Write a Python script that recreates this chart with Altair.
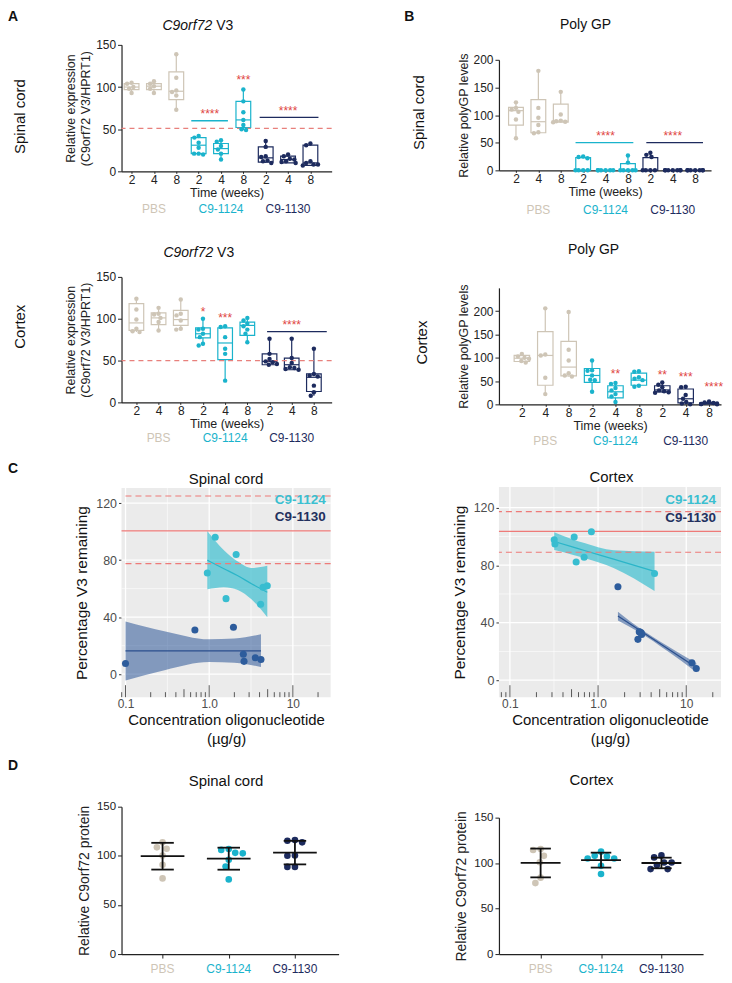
import altair as alt
import pandas as pd

FONT = "Liberation Sans"
GROUPS = ["PBS", "C9-1124", "C9-1130"]
PBS_C = "#CEC5B6"
CYAN = "#1AB3CC"
NAVY = "#1D2B5E"
STAR = "#E0453F"
RED_LINE = "#EE7A78"

# ---------------- Panel A / B : box plots (order PBS 2,4,8 | C9-1124 2,4,8 | C9-1130 2,4,8)
A_SC_PTS = [
    [105, 104, 100, 98, 93],
    [107, 104, 101, 98, 93],
    [139, 111, 96, 94, 90, 73],
    [42, 40, 34, 28, 21, 21, 20],
    [37, 35, 30, 26, 21, 14],
    [97, 83, 70, 61, 55, 50, 49],
    [36, 29, 18, 17, 13, 12, 10],
    [20, 18, 15, 14, 12, 11, 10],
    [33, 31, 12, 10, 8, 8, 7],
]
A_SC_BOX = [(97, 100, 104), (97, 101, 104), (85, 95, 118), (21, 31, 40), (21, 27, 33),
            (52, 61, 83), (11, 16, 29), (10, 14, 18), (7, 10, 31)]

A_CX_PTS = [
    [124, 111, 99, 88, 85, 84],
    [113, 106, 105, 101, 96, 86],
    [123, 106, 104, 98, 88, 87],
    [100, 88, 87, 82, 78, 70, 68],
    [91, 90, 78, 64, 58, 26],
    [101, 98, 94, 91, 87, 82, 72],
    [76, 58, 52, 49, 48, 46, 45],
    [76, 53, 47, 42, 41, 40, 39],
    [64, 34, 32, 31, 20, 12, 8],
]
A_CX_BOX = [(86, 95, 118), (93, 101, 107), (92, 99, 110), (77, 82, 89), (51, 71, 89),
            (80, 92, 96), (45, 49, 58), (39, 45, 53), (13, 30, 34)]

B_SC_PTS = [
    [123, 113, 110, 106, 92, 58],
    [180, 113, 95, 82, 69, 67],
    [142, 101, 90, 89, 88, 87],
    [25, 24, 22, 0, 0, 0, 0],
    [0, 0, 0, 0, 0, 0],
    [27, 14, 0, 0, 0, 0, 0],
    [32, 28, 24, 0, 0, 0, 0],
    [0, 0, 0, 0, 0, 0, 0],
    [0, 0, 0, 0, 0, 0, 0],
]
B_SC_BOX = [(82, 108, 114), (68, 88, 128), (87, 89, 120), (0, 0, 23), (0, 0, 0),
            (0, 0, 12), (0, 0, 23), (0, 0, 0), (0, 0, 0)]

B_CX_PTS = [
    [108, 103, 100, 98, 93, 90],
    [206, 107, 105, 57, 22],
    [198, 117, 94, 67, 62, 60],
    [94, 73, 72, 62, 53, 52, 27],
    [46, 44, 35, 30, 22, 17, 5],
    [71, 70, 58, 55, 52, 40, 38],
    [47, 42, 37, 30, 28, 26, 25],
    [38, 37, 20, 12, 5, 2, 0],
    [6, 4, 3, 2, 1, 1, 0],
]
B_CX_BOX = [(92, 99, 105), (41, 105, 156), (61, 80, 135), (47, 62, 77), (14, 27, 40),
            (41, 52, 67), (27, 31, 40), (3, 12, 33), (1, 2, 4)]

# ---------------- Panel C : concentration vs V3 remaining
C_SC_1124_X = [0.95, 1.18, 2.1, 1.59, 4.4, 4.95, 4.12]
C_SC_1124_Y = [71, 96, 84, 53, 61, 62, 49]
C_SC_1130_X = [0.10, 0.675, 1.95, 2.56, 2.61, 3.56, 4.16]
C_SC_1130_Y = [7.5, 31, 33, 14, 9, 11.5, 10.3]
C_CX_1124_X = [0.318, 0.324, 0.536, 0.84, 0.564, 0.695, 4.37]
C_CX_1124_Y = [97.7, 94.7, 99.6, 103.3, 82.2, 85.5, 74.2]
C_CX_1130_X = [1.68, 2.83, 2.93, 2.98, 3.09, 3.12, 11.6, 13.0]
C_CX_1130_Y = [65, 28.4, 33.7, 33.5, 33, 31.8, 12.2, 8.1]

# fitted lines and confidence bands
C_SC_1124_FX = [0.95, 1.5, 2.2, 3.2, 4.95]
C_SC_1124_FIT = [80, 74, 69, 63.5, 57.5]
C_SC_1124_LO = [59.5, 61, 59, 52.5, 40]
C_SC_1124_HI = [100.5, 87, 79, 74.5, 76]
C_SC_1130_FX = [0.10, 0.3, 1.0, 2.0, 4.16]
C_SC_1130_FIT = [16.4, 16.4, 16.4, 16.4, 16.4]
C_SC_1130_LO = [-4.5, 3, 8.5, 8, 5]
C_SC_1130_HI = [37, 30, 24.5, 25, 28]
C_CX_1124_FX = [0.318, 0.5, 0.7, 1.5, 4.37]
C_CX_1124_FIT = [96.5, 92.9, 90.2, 84.2, 75.7]
C_CX_1124_LO = [90.5, 87.5, 85, 78, 62]
C_CX_1124_HI = [103, 98.3, 95.4, 90.4, 89.4]
C_CX_1130_FX = [1.68, 3.0, 6.0, 13.0]
C_CX_1130_FIT = [44.6, 34.5, 22.4, 8.8]
C_CX_1130_LO = [41.5, 33.0, 20.6, 5.6]
C_CX_1130_HI = [47.7, 36.0, 24.2, 12.0]

C_SC_REF = {"solid": [100.5], "dashed": [125, 77.5]}
C_CX_REF = {"solid": [103.5], "dashed": [117.3, 89]}

# ---------------- Panel D : relative C9orf72 protein
D_SC = [[113.7, 107.2, 108.6, 100.3, 90.8, 77],
        [102.5, 107, 103, 106, 96, 89, 76],
        [115.4, 116, 113.7, 100, 100.3, 88.7, 88.7]]
D_CX = [[114.4, 115.5, 108, 101, 84, 78],
        [112.6, 108, 107.4, 105, 105, 97, 88],
        [108.5, 106.3, 100.7, 100.7, 93.4, 93.4, 98]]
D_COLORS = ["#CFC7BA", "#1FB8CF", "#1D3C85"]

ONE = pd.DataFrame({"k": [0]})


def txt(text, x, y, size, color="#111", weight="normal", style="normal",
        align="center", baseline="alphabetic", angle=0):
    return alt.Chart(ONE).mark_text(
        text=text, font=FONT, fontSize=size, color=color, fontWeight=weight,
        fontStyle=style, align=align, baseline=baseline, angle=angle
    ).encode(x=alt.value(x), y=alt.value(y))


def frame(W, H, L, T, R, B):
    return alt.Chart(ONE).mark_rule(strokeOpacity=0, strokeWidth=0.01).encode(
        x=alt.value(-L), x2=alt.value(W + R), y=alt.value(-T), y2=alt.value(H + B))


def swarm(vals, ppy, ppx, d, maxoff):
    placed, offs = [], []
    for v in vals:
        y = v * ppy
        cands = [0.0]
        for (px, py) in placed:
            dy = y - py
            if abs(dy) < d:
                dx = (d * d - dy * dy) ** 0.5
                cands += [px + dx, px - dx]
        cands = sorted(set(cands), key=lambda c: (abs(c), c))
        chosen = cands[-1]
        for c in cands:
            if all((c - px) ** 2 + (y - py) ** 2 >= d * d - 1e-6 for px, py in placed):
                chosen = c
                break
        placed.append((chosen, y))
        offs.append(max(-maxoff, min(maxoff, chosen / ppx)))
    return offs


def box_panel(pts, box, W, H, xdom, ydom, yticks, ytitle, fr, texts, sig, stars,
              group_dy, dashed=None, inset=0):
    # inset: blank space above the plotting area inside the view (used to offset the panel)
    sx = alt.Scale(domain=xdom, nice=False, zero=False)
    sy = alt.Scale(domain=ydom, range=[H + inset, inset], nice=False, zero=False)
    gsc = alt.Scale(domain=GROUPS, range=[PBS_C, CYAN, NAVY])
    ppx = W / (xdom[1] - xdom[0])
    ppy = H / (ydom[1] - ydom[0])
    prow, brow = [], []
    for i, vals in enumerate(pts):
        g = GROUPS[i // 3]
        offs = swarm(vals, ppy, ppx, 4.6, 0.34)
        for v, o in zip(vals, offs):
            prow.append({"x": i + o, "y": v, "g": g})
        q1, md, q3 = box[i]
        brow.append({"i": i, "xl": i - 0.33, "xr": i + 0.33, "q1": q1, "md": md,
                     "q3": q3, "mn": min(vals), "mx": max(vals), "g": g})
    P = pd.DataFrame(prow)
    Bx = pd.DataFrame(brow)
    col = alt.Color("g:N", scale=gsc, legend=None)
    xaxis = alt.Axis(values=list(range(9)), labelExpr="['2','4','8'][datum.value % 3]",
                     title="Time (weeks)", grid=False, domainColor="#222", domainWidth=1.2,
                     tickColor="#222", tickSize=2, labelFont=FONT, labelFontSize=12,
                     labelColor="#222", labelPadding=1, titleFont=FONT, titleFontSize=12.5,
                     titleFontWeight="normal", titleColor="#222", titlePadding=1)
    yaxis = alt.Axis(values=yticks, title=ytitle, grid=False, domainColor="#222",
                     domainWidth=1.2, tickColor="#222", tickSize=4, labelFont=FONT,
                     labelFontSize=12, labelColor="#222", labelPadding=2, titleFont=FONT,
                     titleFontSize=12.5, titleFontWeight="normal", titleColor="#222",
                     titlePadding=3, titleLineHeight=15)

    def X(f):
        return alt.X(f, scale=sx, axis=xaxis)

    def Y(f):
        return alt.Y(f, scale=sy, axis=yaxis)

    layers = []
    layers.append(alt.Chart(Bx).mark_rule(strokeWidth=1.2).encode(
        x=X("i:Q"), y=Y("mn:Q"), y2="mx", color=col))
    layers.append(alt.Chart(Bx).mark_rect(fill="white", strokeWidth=1.2).encode(
        x=X("xl:Q"), x2="xr", y=Y("q1:Q"), y2="q3",
        stroke=alt.Stroke("g:N", scale=gsc, legend=None)))
    layers.append(alt.Chart(Bx).mark_rule(strokeWidth=1.2).encode(
        x=X("xl:Q"), x2="xr", y=Y("md:Q"), color=col))
    if dashed is not None:
        layers.append(alt.Chart(pd.DataFrame({"v": [dashed]})).mark_rule(
            color="#E8807C", strokeWidth=1.2, strokeDash=[5, 4]).encode(y=Y("v:Q")))
    layers.append(alt.Chart(P).mark_circle(size=20, opacity=1).encode(
        x=X("x:Q"), y=Y("y:Q"), color=col))
    if sig:
        S = pd.DataFrame(sig, columns=["x1", "x2", "y", "g"])
        layers.append(alt.Chart(S).mark_rule(strokeWidth=1.3).encode(
            x=X("x1:Q"), x2="x2", y=Y("y:Q"), color=col))
    ST = pd.DataFrame(stars, columns=["x", "y", "s"])
    layers.append(alt.Chart(ST).mark_text(font=FONT, fontSize=12, color=STAR,
                                          baseline="middle", dy=3).encode(
        x=X("x:Q"), y=Y("y:Q"), text="s:N"))
    GL = pd.DataFrame({"x": [1, 4, 7], "g": GROUPS})
    layers.append(alt.Chart(GL).mark_text(font=FONT, fontSize=12, baseline="middle").encode(
        x=X("x:Q"), y=alt.value(H + inset + group_dy), text="g:N", color=col))
    layers += texts
    L, T, R, B = fr
    layers.append(frame(W, H + inset, L, T, R, B))
    return alt.layer(*layers).properties(width=W, height=H + inset)


def log_ticks(xdom):
    out = {"long": [], "mid": [], "short": []}
    for e in (-2, -1, 0, 1, 2):
        for m in range(1, 10):
            t = m * 10.0 ** e
            if xdom[0] <= t <= xdom[1]:
                key = "long" if m == 1 else ("mid" if m == 5 else "short")
                out[key].append(t)
    return out


def reg_panel(W, H, xdom, ydom, groups, ref, fr, texts, label_ys):
    sx = alt.Scale(type="log", domain=xdom, nice=False)
    sy = alt.Scale(domain=ydom, nice=False, zero=False)
    yaxis = alt.Axis(values=[0, 40, 80, 120], title="Percentage V3 remaining", grid=False,
                     domain=False, ticks=True, tickColor="#333", tickSize=3, labelFont=FONT,
                     labelFontSize=12.5, labelColor="#4D4D4D", labelPadding=2,
                     titleFont=FONT, titleFontSize=15.5, titleFontWeight="normal",
                     titleColor="#111", titlePadding=6)
    xaxis = alt.Axis(values=[0.1, 1, 10],
                     labelExpr="datum.value < 0.5 ? '0.1' : (datum.value < 5 ? '1.0' : '10')",
                     title=["Concentration oligonucleotide", "(\u00b5g/g)"], grid=False,
                     domain=False, ticks=False, labelFont=FONT, labelFontSize=12,
                     labelColor="#4D4D4D", labelPadding=1, titleFont=FONT, titleFontSize=15,
                     titleFontWeight="normal", titleColor="#111", titlePadding=3,
                     titleLineHeight=20)

    def X(f):
        return alt.X(f, scale=sx, axis=xaxis)

    def Y(f):
        return alt.Y(f, scale=sy, axis=yaxis)

    layers = [alt.Chart(ONE).mark_rect(color="#EBEBEB").encode(
        x=alt.value(0), x2=alt.value(W), y=alt.value(0), y2=alt.value(H))]
    gy = pd.DataFrame({"v": [0, 40, 80, 120, 20, 60, 100], "w": [1.3] * 4 + [0.6] * 3})
    gx = pd.DataFrame({"v": [0.1, 1, 10, 10 ** -0.5, 10 ** 0.5], "w": [1.3] * 3 + [0.6] * 2})
    layers.append(alt.Chart(gy).mark_rule(color="white").encode(
        y=Y("v:Q"), strokeWidth=alt.StrokeWidth("w:Q", scale=None)))
    layers.append(alt.Chart(gx).mark_rule(color="white").encode(
        x=X("v:Q"), strokeWidth=alt.StrokeWidth("w:Q", scale=None)))
    for g in groups:
        df = pd.DataFrame({"fx": g["fx"], "lo": g["lo"], "hi": g["hi"], "fit": g["fit"]})
        layers.append(alt.Chart(df).mark_area(color=g["band"], opacity=g["alpha"],
                                              interpolate="monotone").encode(
            x=X("fx:Q"), y=Y("lo:Q"), y2="hi"))
        layers.append(alt.Chart(df).mark_line(color=g["line"], strokeWidth=1.2,
                                              interpolate="monotone").encode(
            x=X("fx:Q"), y=Y("fit:Q")))
    layers.append(alt.Chart(pd.DataFrame({"v": ref["solid"]})).mark_rule(
        color=RED_LINE, strokeWidth=1.3).encode(y=Y("v:Q")))
    layers.append(alt.Chart(pd.DataFrame({"v": ref["dashed"]})).mark_rule(
        color=RED_LINE, strokeWidth=1.2, strokeDash=[6, 4]).encode(y=Y("v:Q")))
    for g in groups:
        df = pd.DataFrame({"x": g["x"], "y": g["y"]})
        layers.append(alt.Chart(df).mark_circle(size=50, opacity=1, color=g["pt"]).encode(
            x=X("x:Q"), y=Y("y:Q")))
    lt = log_ticks(xdom)
    for key, ln in (("long", 12), ("mid", 8), ("short", 5)):
        layers.append(alt.Chart(pd.DataFrame({"t": lt[key]})).mark_rule(
            color="#333", strokeWidth=0.8).encode(
            x=X("t:Q"), y=alt.value(H), y2=alt.value(H - ln)))
    layers.append(txt("C9-1124", W - 5, label_ys[0], 13.5, color="#3BBFD0", weight="bold",
                      align="right", baseline="middle"))
    layers.append(txt("C9-1130", W - 5, label_ys[1], 13.5, color="#23305E", weight="bold",
                      align="right", baseline="middle"))
    layers += texts
    layers.append(frame(W, H, *fr))
    return alt.layer(*layers).properties(width=W, height=H)


def dot_panel(vals, W, H, xdom, fr, texts):
    sx = alt.Scale(domain=xdom, nice=False, zero=False)
    sy = alt.Scale(domain=[0, 150], nice=False, zero=False)
    dsc = alt.Scale(domain=GROUPS, range=D_COLORS)
    ppx = W / (xdom[1] - xdom[0])
    ppy = H / 150.0
    rows = []
    for i, v in enumerate(vals):
        vs = sorted(v, reverse=True)
        offs = swarm(vs, ppy, ppx, 7.6, 0.45)
        for y, o in zip(vs, offs):
            rows.append({"i": i, "x": i + o, "y": y, "g": GROUPS[i]})
    P = pd.DataFrame(rows)
    xaxis = alt.Axis(values=[0, 1, 2], labels=False, title=None, grid=False,
                     domainColor="#222", domainWidth=1.2, tickColor="#222", tickSize=4)
    yaxis = alt.Axis(values=[0, 50, 100, 150], title="Relative C9orf72 protein", grid=False,
                     domainColor="#222", domainWidth=1.2, tickColor="#222", tickSize=4,
                     labelFont=FONT, labelFontSize=11.5, labelColor="#222", labelPadding=2,
                     titleFont=FONT, titleFontSize=14, titleFontWeight="normal",
                     titleColor="#222", titlePadding=5)

    def X(f):
        return alt.X(f, scale=sx, axis=xaxis)

    def Y(f):
        return alt.Y(f, scale=sy, axis=yaxis)

    layers = [alt.Chart(P).mark_circle(size=44, opacity=1).encode(
        x=X("x:Q"), y=Y("y:Q"), color=alt.Color("g:N", scale=dsc, legend=None))]
    stats = alt.Chart(P).transform_aggregate(
        m="mean(y)", s="stdev(y)", groupby=["i"]
    ).transform_calculate(
        lo="datum.m - datum.s", hi="datum.m + datum.s",
        xl="datum.i - 0.33", xr="datum.i + 0.33", cl="datum.i - 0.17", cr="datum.i + 0.17")
    lk = dict(color="#111", strokeWidth=1.8)
    layers.append(stats.mark_rule(**lk).encode(x=X("xl:Q"), x2="xr", y=Y("m:Q")))
    layers.append(stats.mark_rule(**lk).encode(x=X("i:Q"), y=Y("lo:Q"), y2="hi"))
    layers.append(stats.mark_rule(**lk).encode(x=X("cl:Q"), x2="cr", y=Y("hi:Q")))
    layers.append(stats.mark_rule(**lk).encode(x=X("cl:Q"), x2="cr", y=Y("lo:Q")))
    GL = pd.DataFrame({"x": [0, 1, 2], "g": GROUPS})
    layers.append(alt.Chart(GL).mark_text(font=FONT, fontSize=12, baseline="middle").encode(
        x=X("x:Q"), y=alt.value(H + 15), text="g:N",
        color=alt.Color("g:N", scale=dsc, legend=None)))
    layers += texts
    layers.append(frame(W, H, *fr))
    return alt.layer(*layers).properties(width=W, height=H)


YT_A = ["Relative expression", "(C9orf72 V3/HPRT1)"]
YT_B = "Relative polyGP levels"

# ---------- left column (plot origin at page x 122)
a_sc = box_panel(
    A_SC_PTS, A_SC_BOX, 211, 127, [-0.45, 8.95], [0, 150], [0, 50, 100, 150], YT_A,
    (114, 35, 33, 52),
    [txt("A", -114, -35, 14, weight="bold", align="left", baseline="top"),
     txt("C9orf72", 91, -15, 14, style="italic", align="right"),
     txt("V3", 95, -15, 14, align="left"),
     txt("Spinal cord", -102, 72, 15, angle=270, baseline="middle")],
    [(2.67, 4.31, 60, "C9-1124"), (5.73, 8.36, 64, "C9-1130")],
    [(3.5, 71, "****"), (5, 112, "***"), (7, 75, "****")], 38, dashed=51)

a_cx = box_panel(
    A_CX_PTS, A_CX_BOX, 211, 126, [-0.67, 8.8], [0, 150], [0, 50, 100, 150], YT_A,
    (114, 54, 33, 53),
    [txt("C9orf72", 92, -20, 14, style="italic", align="right"),
     txt("V3", 96, -20, 14, align="left"),
     txt("Cortex", -102, 50, 15, angle=270, baseline="middle")],
    [(5.89, 8.58, 84.5, "C9-1130")],
    [(3, 111.5, "*"), (4, 104, "***"), (7, 96, "****")], 36, dashed=50)

CY_PT, CY_BAND, CY_LINE = "#38BDD0", "#1FB8CC", "#2BB5C8"
NV_PT, NV_BAND, NV_LINE = "#2D5C9C", "#2B5597", "#2A4F8E"

c_sc = reg_panel(
    210, 210, [0.0896, 28.3], [-16.1, 130.6],
    [dict(x=C_SC_1124_X, y=C_SC_1124_Y, fx=C_SC_1124_FX, fit=C_SC_1124_FIT,
          lo=C_SC_1124_LO, hi=C_SC_1124_HI, pt=CY_PT, band=CY_BAND, line=CY_LINE, alpha=0.6),
     dict(x=C_SC_1130_X, y=C_SC_1130_Y, fx=C_SC_1130_FX, fit=C_SC_1130_FIT,
          lo=C_SC_1130_LO, hi=C_SC_1130_HI, pt=NV_PT, band=NV_BAND, line=NV_LINE, alpha=0.55)],
    C_SC_REF, (114, 33, 34, 52),
    [txt("C", -114, -26, 14, weight="bold", align="left", baseline="top"),
     txt("Spinal cord", 105, -4, 15)], (12, 29))

d_sc = dot_panel(D_SC, 218, 148, [-0.62, 2.66], (114, 58, 26, 12),
                 [txt("D", -114, -48, 14, weight="bold", align="left", baseline="top"),
                  txt("Spinal cord", 105, -21, 15)])

# ---------- right column (plot origin at page x 501); first panel offset by an inset of 15 px
b_sc = box_panel(
    B_SC_PTS, B_SC_BOX, 213, 111, [-0.76, 8.71], [0, 200], [0, 50, 100, 150, 200], YT_B,
    (135, 35, 10, 53),
    [txt("B", -95, -35, 14, weight="bold", align="left", baseline="top"),
     txt("Poly GP", 87, -16, 14),
     txt("Spinal cord", -80, 68, 15, angle=270, baseline="middle")],
    [(2.66, 5.24, 50, "C9-1124"), (5.82, 8.35, 50, "C9-1130")],
    [(4, 68, "****"), (7, 68, "****")], 40, inset=15)

b_cx = box_panel(
    B_CX_PTS, B_CX_BOX, 223, 117, [-0.98, 8.51], [0, 250], [0, 50, 100, 150, 200], YT_B,
    (135, 65, 0, 51),
    [txt("Poly GP", 95, -34, 14),
     txt("Cortex", -77, 55, 15, angle=270, baseline="middle")],
    [],
    [(4, 72, "**"), (6, 70, "**"), (7, 65, "***"), (8.2, 43, "****")], 37)

c_cx = reg_panel(
    223, 211, [0.0751, 24.8], [-11.8, 134.4],
    [dict(x=C_CX_1124_X, y=C_CX_1124_Y, fx=C_CX_1124_FX, fit=C_CX_1124_FIT,
          lo=C_CX_1124_LO, hi=C_CX_1124_HI, pt=CY_PT, band=CY_BAND, line=CY_LINE, alpha=0.6),
     dict(x=C_CX_1130_X, y=C_CX_1130_Y, fx=C_CX_1130_FX, fit=C_CX_1130_FIT,
          lo=C_CX_1130_LO, hi=C_CX_1130_HI, pt=NV_PT, band=NV_BAND, line=NV_LINE, alpha=0.55)],
    C_CX_REF, (135, 32, 0, 52),
    [txt("Cortex", 113, -5, 15)], (13, 31))

d_cx = dot_panel(D_CX, 205, 137, [-0.69, 2.69], (135, 69, 18, 12),
                 [txt("Cortex", 93, -33, 15)])

left = alt.vconcat(a_sc, a_cx, c_sc, d_sc, spacing=0)
right = alt.vconcat(b_sc, b_cx, c_cx, d_cx, spacing=0)
chart = alt.hconcat(left, right, spacing=0).properties(padding=0).configure_view(stroke=None)

chart.save("out.html", embed_options={"renderer": "svg", "actions": False})
